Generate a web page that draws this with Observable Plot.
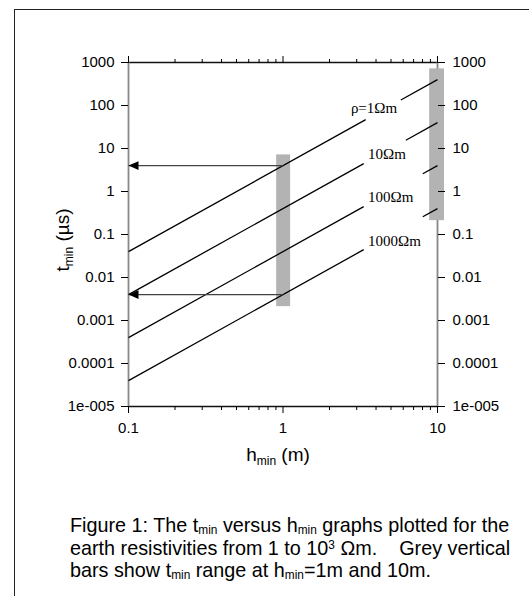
<!DOCTYPE html>
<html>
<head>
<meta charset="utf-8">
<script src="https://cdn.jsdelivr.net/npm/d3@7"></script>
<script src="https://cdn.jsdelivr.net/npm/@observablehq/plot@0.6"></script>
<style>
  html, body { margin: 0; padding: 0; background: #fff; overflow: hidden; }
  #wrap { position: relative; width: 529px; height: 596px; }
  #box { position: absolute; left: 14px; top: 9px; width: 560px; height: 640px; border: 1.5px solid #222; box-sizing: border-box; }
  #chart { position: absolute; left: 0; top: 0; }
  #caption { position: absolute; left: 70px; top: 514px; font-family: "Liberation Sans", Arial, sans-serif; font-size: 19.8px; line-height: 22px; color: #000; white-space: nowrap; }
  #caption sub { font-size: 0.6em; vertical-align: -0.15em; line-height: 1; }
  #caption sup { font-size: 0.6em; vertical-align: 0.5em; line-height: 1; }
</style>
</head>
<body>
<div id="wrap">
  <div id="box"></div>
  <div id="chart"></div>
  <div id="caption">Figure 1: The t<sub>min</sub> versus h<sub>min</sub> graphs plotted for the<br>earth resistivities from 1 to 10<sup>3</sup> Ωm.&nbsp;&nbsp;&nbsp; Grey vertical<br>bars show t<sub>min</sub> range at h<sub>min</sub>=1m and 10m.</div>
</div>
<script>
// ---- data ----
const yTicks = [1e-5, 1e-4, 1e-3, 1e-2, 1e-1, 1, 10, 100, 1000];
const yTickLabels = ["1e-005", "0.0001", "0.001", "0.01", "0.1", "1", "10", "100", "1000"];
const xTicks = [0.1, 1, 10];
const xTickLabels = ["0.1", "1", "10"];
const xMinorTicks = [0.2, 0.3, 0.4, 0.5, 0.6, 0.7, 0.8, 0.9, 2, 3, 4, 5, 6, 7, 8, 9];

// line segments (one row per drawn piece; gaps leave room for labels)
const segRho = [1, 1, 10, 10, 100, 100, 1000, 1000];
const segH1  = [0.1, 5.79, 0.1, 6.24, 0.1, 8.03, 0.1, 8.03];
const segT1  = [0.04, 134, 0.004, 15.6, 0.0004, 2.58, 0.00004, 0.258];
const segH2  = [3.43, 10, 3.33, 10, 3.33, 10, 3.33, 10];
const segT2  = [47, 400, 4.44, 40, 0.444, 4, 0.0444, 0.4];

// line labels
const labelText = ["ρ=1Ωm", "10Ωm", "100Ωm", "1000Ωm"];
const labelH = [2.75, 3.55, 3.55, 3.55];
const labelT = [85, 7.5, 0.73, 0.071];

// grey vertical bars
const barH1 = [0.91, 8.9];
const barH2 = [1.12, 11.1];
const barTLow = [0.0021, 0.21];
const barTHigh = [7.1, 710];

// arrows
const arrowT = [4, 0.004];
const arrowFrom = [1, 1];
const arrowTo = [0.1, 0.1];

// ---- build tables ----
const segs = segRho.map((r, i) => ({rho: r, h1: segH1[i], t1: segT1[i], h2: segH2[i], t2: segT2[i]}));
const labels = labelText.map((s, i) => ({s, h: labelH[i], t: labelT[i]}));
const bars = barH1.map((h, i) => ({h1: h, h2: barH2[i], lo: barTLow[i], hi: barTHigh[i]}));
const arrows = arrowT.map((t, i) => ({t, from: arrowFrom[i], to: arrowTo[i]}));

const leftHead = {
  draw(ctx) {
    ctx.moveTo(0, 0);
    ctx.lineTo(10, -4.4);
    ctx.lineTo(10, 4.4);
    ctx.closePath();
  }
};

const yFmt = d => yTickLabels[yTicks.indexOf(d)] ?? "";
const xFmt = d => xTickLabels[xTicks.indexOf(d)] ?? "";

const plot = Plot.plot({
  width: 529,
  height: 470,
  marginLeft: 128,
  marginRight: 92,
  marginTop: 62,
  marginBottom: 64,
  style: {fontFamily: "'Liberation Sans', Arial, sans-serif", fontSize: "15px", background: "transparent", overflow: "visible"},
  x: {type: "log", domain: [0.1, 10]},
  y: {type: "log", domain: [1e-5, 1000]},
  marks: [
    Plot.ruleY([1000], {stroke: "#111", strokeWidth: 1.3}),
    Plot.ruleY([1e-5], {stroke: "#111", strokeWidth: 1.3}),
    Plot.ruleX([0.1], {stroke: "#888", strokeWidth: 1.8}),
    Plot.ruleX([10], {stroke: "#888", strokeWidth: 1.8}),
    Plot.rect(bars, {x1: "h1", x2: "h2", y1: "lo", y2: "hi", fill: "#b3b3b3"}),
    Plot.link(segs, {x1: "h1", y1: "t1", x2: "h2", y2: "t2", stroke: "#000", strokeWidth: 1.3}),
    Plot.text(labels, {x: "h", y: "t", text: "s", textAnchor: "start", fontFamily: "'Liberation Serif', 'Times New Roman', serif", fontSize: 15, fill: "#000"}),
    Plot.link(arrows, {x1: "from", x2: "to", y1: "t", y2: "t", stroke: "#444", strokeWidth: 1.3}),
    Plot.dot(arrows, {x: "to", y: "t", symbol: leftHead, fill: "#000", stroke: null}),
    Plot.axisY({ticks: yTicks, anchor: "left", tickSize: 7, tickPadding: 7, tickFormat: yFmt, label: null, fontSize: 15}),
    Plot.axisY({ticks: yTicks, anchor: "right", tickSize: 7, tickPadding: 8, tickFormat: yFmt, label: null, fontSize: 15}),
    Plot.axisX({ticks: xTicks, anchor: "bottom", tickSize: 7, tickPadding: 9, tickFormat: xFmt, label: null, fontSize: 15}),
    Plot.axisX({ticks: xMinorTicks, anchor: "bottom", tickSize: 4, tickFormat: () => "", label: null}),
    Plot.axisX({ticks: xTicks, anchor: "top", tickSize: 7, tickFormat: () => "", label: null}),
    Plot.axisX({ticks: xMinorTicks, anchor: "top", tickSize: 4, tickFormat: () => "", label: null})
  ]
});

document.getElementById("chart").appendChild(plot);

// axis titles with subscripts
const svg = d3.select(plot);
const xt = svg.append("text")
  .attr("x", 278).attr("y", 461)
  .attr("text-anchor", "middle")
  .attr("font-family", "'Liberation Sans', Arial, sans-serif")
  .attr("font-size", 19)
  .attr("fill", "#000");
xt.append("tspan").text("h");
xt.append("tspan").attr("font-size", 12).attr("dy", 4).text("min");
xt.append("tspan").attr("dy", -4).text(" (m)");

const yt = svg.append("text")
  .attr("transform", "translate(69,240) rotate(-90)")
  .attr("text-anchor", "middle")
  .attr("font-family", "'Liberation Sans', Arial, sans-serif")
  .attr("font-size", 19)
  .attr("fill", "#000");
yt.append("tspan").text("t");
yt.append("tspan").attr("font-size", 12).attr("dy", 4).text("min");
yt.append("tspan").attr("dy", -4).text(" (µs)");
</script>
</body>
</html>
